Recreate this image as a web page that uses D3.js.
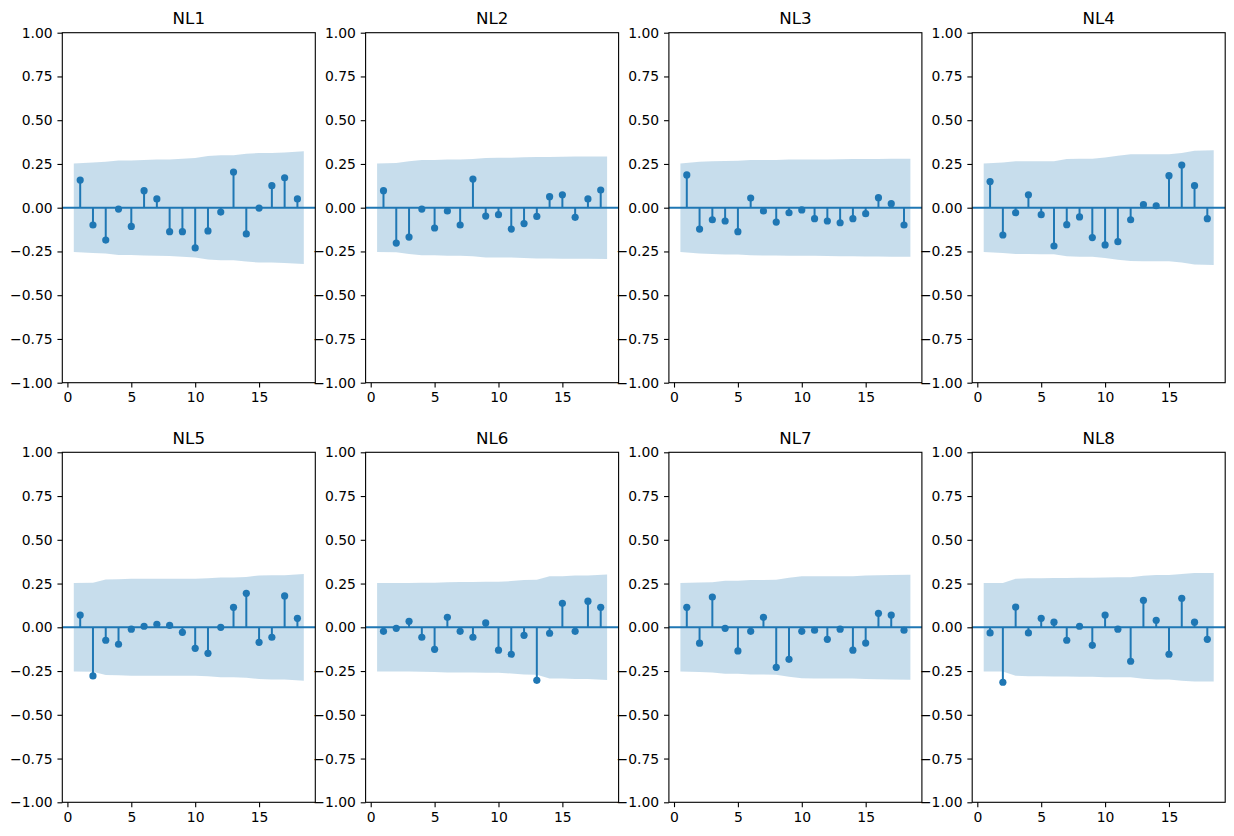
<!DOCTYPE html>
<html>
<head>
<meta charset="utf-8">
<script src="https://cdn.jsdelivr.net/npm/d3@7"></script>
<style>
    body { margin: 0; background: #fff; }
    text { font-family: "DejaVu Sans", sans-serif; }
</style>
</head>
<body>
<script>
//lags on the x axis
var lags = [1, 2, 3, 4, 5, 6, 7, 8, 9, 10, 11, 12, 13, 14, 15, 16, 17, 18];

var titles = ["NL1", "NL2", "NL3", "NL4", "NL5", "NL6", "NL7", "NL8"];

//autocorrelation per lag
var acfNL1 = [0.158, -0.099, -0.185, -0.008, -0.107, 0.097, 0.050, -0.137, -0.137, -0.230, -0.133, -0.025, 0.204, -0.150, -0.002, 0.126, 0.171, 0.050];
var acfNL2 = [0.097, -0.202, -0.168, -0.008, -0.116, -0.019, -0.099, 0.164, -0.048, -0.040, -0.122, -0.091, -0.050, 0.063, 0.074, -0.055, 0.050, 0.101];
var acfNL3 = [0.187, -0.122, -0.069, -0.076, -0.137, 0.055, -0.019, -0.082, -0.029, -0.013, -0.063, -0.076, -0.086, -0.063, -0.034, 0.057, 0.023, -0.099];
var acfNL4 = [0.149, -0.156, -0.029, 0.074, -0.040, -0.219, -0.097, -0.053, -0.171, -0.213, -0.194, -0.069, 0.017, 0.011, 0.183, 0.244, 0.126, -0.063];
var acfNL5 = [0.070, -0.278, -0.074, -0.097, -0.011, 0.006, 0.017, 0.011, -0.029, -0.120, -0.149, 0.000, 0.114, 0.194, -0.086, -0.057, 0.179, 0.051];
var acfNL6 = [-0.023, -0.006, 0.034, -0.057, -0.126, 0.057, -0.023, -0.057, 0.025, -0.131, -0.154, -0.046, -0.303, -0.034, 0.137, -0.023, 0.149, 0.114];
var acfNL7 = [0.114, -0.091, 0.173, -0.006, -0.135, -0.023, 0.057, -0.229, -0.183, -0.023, -0.017, -0.069, -0.011, -0.131, -0.090, 0.080, 0.070, -0.017];
var acfNL8 = [-0.032, -0.314, 0.116, -0.032, 0.051, 0.029, -0.074, 0.006, -0.103, 0.070, -0.011, -0.194, 0.154, 0.040, -0.154, 0.166, 0.029, -0.069];

//half width of the confidence band per lag
var bandNL1 = [0.253, 0.259, 0.262, 0.270, 0.270, 0.273, 0.275, 0.276, 0.280, 0.284, 0.296, 0.300, 0.300, 0.308, 0.313, 0.313, 0.316, 0.322];
var bandNL2 = [0.253, 0.255, 0.265, 0.272, 0.272, 0.275, 0.275, 0.278, 0.284, 0.285, 0.285, 0.288, 0.290, 0.290, 0.291, 0.292, 0.292, 0.293];
var bandNL3 = [0.253, 0.262, 0.265, 0.267, 0.268, 0.272, 0.273, 0.273, 0.275, 0.275, 0.275, 0.276, 0.277, 0.278, 0.279, 0.279, 0.280, 0.280];
var bandNL4 = [0.253, 0.259, 0.265, 0.265, 0.266, 0.266, 0.278, 0.280, 0.280, 0.287, 0.297, 0.305, 0.306, 0.306, 0.306, 0.313, 0.325, 0.328];
var bandNL5 = [0.253, 0.254, 0.273, 0.274, 0.277, 0.277, 0.277, 0.277, 0.277, 0.277, 0.280, 0.285, 0.285, 0.288, 0.296, 0.298, 0.298, 0.305];
var bandNL6 = [0.253, 0.253, 0.253, 0.254, 0.255, 0.258, 0.259, 0.259, 0.260, 0.260, 0.264, 0.270, 0.271, 0.292, 0.292, 0.296, 0.296, 0.301];
var bandNL7 = [0.253, 0.256, 0.258, 0.266, 0.266, 0.270, 0.270, 0.271, 0.283, 0.291, 0.292, 0.292, 0.292, 0.292, 0.296, 0.297, 0.299, 0.300];
var bandNL8 = [0.253, 0.253, 0.277, 0.280, 0.280, 0.281, 0.281, 0.283, 0.283, 0.285, 0.286, 0.286, 0.294, 0.299, 0.299, 0.305, 0.310, 0.310];

var xTicks = [0, 5, 10, 15];
var yTicks = [-1, -0.75, -0.5, -0.25, 0, 0.25, 0.5, 0.75, 1];

var acfs = [acfNL1, acfNL2, acfNL3, acfNL4, acfNL5, acfNL6, acfNL7, acfNL8];
var bands = [bandNL1, bandNL2, bandNL3, bandNL4, bandNL5, bandNL6, bandNL7, bandNL8];

window.onload = drawCharts();

function drawCharts(){

    //figure and panel frame
    var width = 1234,
        height = 836,
        panelW = 253,
        panelH = 350,
        lefts = [62.3, 365.6, 668.9, 972.2],
        tops = [32.7, 452.3],
        blue = "#1f77b4",
        tick = 4.86;

    var svg = d3.select("body")
        .append("svg")
        .attr("width", width)
        .attr("height", height);

    var x = d3.scaleLinear()
        .domain([-0.4, 19.4])
        .range([0, panelW]);

    var y = d3.scaleLinear()
        .domain([-1, 1])
        .range([panelH, 0]);

    //band points: first lag pulled back to 0.5, last pushed to 18.5
    function bandX(i){
        if (i == 0) return lags[i] - 0.5;
        if (i == lags.length - 1) return lags[i] + 0.5;
        return lags[i];
    }

    var area = d3.area()
        .x(function(d, i){ return x(bandX(i)); })
        .y0(function(d){ return y(-d); })
        .y1(function(d){ return y(d); });

    titles.forEach(function(title, p){
        var g = svg.append("g")
            .attr("transform", "translate(" + lefts[p % 4] + "," + tops[Math.floor(p / 4)] + ")");

        var acf = acfs[p];

        //confidence band
        g.append("path")
            .datum(bands[p])
            .attr("d", area)
            .attr("fill", blue)
            .attr("fill-opacity", 0.25);

        //stems
        g.selectAll(".stem")
            .data(acf)
            .enter()
            .append("line")
            .attr("class", "stem")
            .attr("x1", function(d, i){ return x(lags[i]); })
            .attr("x2", function(d, i){ return x(lags[i]); })
            .attr("y1", y(0))
            .attr("y2", function(d){ return y(d); })
            .attr("stroke", blue)
            .attr("stroke-width", 2);

        //zero line
        g.append("line")
            .attr("x1", 0)
            .attr("x2", panelW)
            .attr("y1", y(0))
            .attr("y2", y(0))
            .attr("stroke", blue)
            .attr("stroke-width", 2);

        //markers
        g.selectAll(".dot")
            .data(acf)
            .enter()
            .append("circle")
            .attr("class", "dot")
            .attr("cx", function(d, i){ return x(lags[i]); })
            .attr("cy", function(d){ return y(d); })
            .attr("r", 3.6)
            .attr("fill", blue);

        //axes
        var xAxis = g.append("g")
            .attr("transform", "translate(0," + panelH + ")")
            .call(d3.axisBottom(x).tickValues(xTicks).tickSize(tick).tickPadding(tick).tickSizeOuter(0));

        var yAxis = g.append("g")
            .call(d3.axisLeft(y).tickValues(yTicks).tickSize(tick).tickPadding(tick).tickSizeOuter(0)
                .tickFormat(function(d){ return d3.format(".2f")(d).replace("-", "\u2212"); }));

        [xAxis, yAxis].forEach(function(a){
            a.select(".domain").remove();
            a.selectAll("line").attr("stroke", "#000").attr("stroke-width", 1.1);
            a.selectAll("text")
                .attr("fill", "#000")
                .style("font-size", "13.9px")
                .style("font-family", "'DejaVu Sans', sans-serif");
        });

        //frame
        g.append("rect")
            .attr("width", panelW)
            .attr("height", panelH)
            .attr("fill", "none")
            .attr("stroke", "#000")
            .attr("stroke-width", 1.1);

        //title
        g.append("text")
            .attr("x", panelW / 2)
            .attr("y", -8.6)
            .attr("text-anchor", "middle")
            .style("font-size", "16.7px")
            .attr("fill", "#000")
            .text(title);
    });
};
</script>
</body>
</html>
